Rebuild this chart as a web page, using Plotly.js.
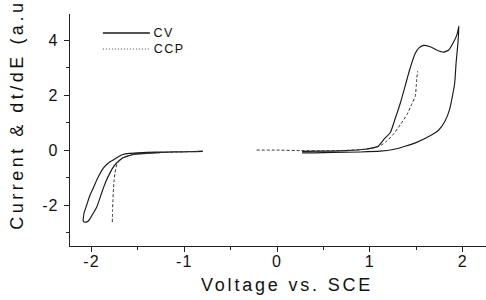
<!DOCTYPE html>
<html>
<head>
<meta charset="utf-8">
<script src="https://cdn.plot.ly/plotly-3.0.1.min.js"></script>
<style>
html,body{margin:0;padding:0;background:#fff;}
#chart{width:486px;height:300px;}
.xtick text,.ytick text{letter-spacing:1px;}
</style>
</head>
<body>
<div id="chart"></div>
<script>
// CV, cathodic loop (left)
const cvLeftX = [-0.80,-0.95,-1.10,-1.25,-1.38,-1.48,-1.55,-1.61,-1.66,-1.70,-1.73,-1.77,-1.80,-1.85,-1.89,-1.94,-2.00,-2.03,-2.06,-2.08,-2.09,-2.085,-2.08,-2.05,-2.02,-1.98,-1.94,-1.87,-1.81,-1.76,-1.71,-1.66,-1.59,-1.51,-1.40,-1.20,-1.00,-0.80];
const cvLeftY = [-0.05,-0.06,-0.07,-0.09,-0.11,-0.14,-0.16,-0.22,-0.28,-0.38,-0.47,-0.65,-0.83,-1.19,-1.56,-2.05,-2.41,-2.57,-2.62,-2.62,-2.56,-2.42,-2.29,-1.99,-1.68,-1.38,-1.07,-0.65,-0.45,-0.35,-0.24,-0.16,-0.12,-0.10,-0.08,-0.07,-0.06,-0.05];
// CV, anodic loop (right)
const cvRightX = [0.27,0.50,0.75,0.95,1.03,1.09,1.165,1.22,1.27,1.33,1.38,1.43,1.49,1.53,1.58,1.65,1.72,1.79,1.85,1.90,1.94,1.96,1.95,1.93,1.915,1.89,1.86,1.81,1.74,1.63,1.505,1.38,1.25,1.11,0.90,0.60,0.40,0.27];
const cvRightY = [-0.05,-0.04,-0.02,0.03,0.08,0.14,0.44,0.63,1.11,1.72,2.32,2.93,3.52,3.72,3.81,3.76,3.64,3.56,3.64,3.91,4.21,4.51,3.91,3.18,2.45,1.96,1.48,1.05,0.72,0.48,0.28,0.14,0.02,-0.04,-0.07,-0.09,-0.10,-0.10];
// CCP, cathodic branch
const ccpLeftX = [-0.85,-1.10,-1.30,-1.45,-1.55,-1.60,-1.66,-1.69,-1.72,-1.735,-1.746,-1.755,-1.762,-1.768,-1.772,-1.775];
const ccpLeftY = [-0.05,-0.07,-0.09,-0.12,-0.16,-0.21,-0.28,-0.36,-0.48,-0.62,-0.83,-1.07,-1.40,-1.80,-2.20,-2.62];
// CCP, anodic branch
const ccpRightX = [-0.22,0.00,0.25,0.50,0.75,0.95,1.05,1.12,1.18,1.25,1.33,1.40,1.45,1.49,1.50,1.505,1.515];
const ccpRightY = [0.00,0.00,-0.02,-0.03,-0.01,0.03,0.08,0.17,0.32,0.56,0.93,1.29,1.66,1.96,2.32,2.57,2.87];

const xTickVals = [-2,-1,0,1,2];
const xTickText = ['-2','-1','0','1','2'];
const yTickVals = [-2,0,2,4];
const yTickText = ['-2','0','2','4'];
const seriesNames = ['CV','CCP'];
const xTitle = 'Voltage vs. SCE';
const yTitle = 'Current &amp; dt/dE (a.u.)';

const cvLine = {color:'#1a1a1a', width:1.15, shape:'spline', smoothing:0.5};
const ccpLine = {color:'#333', width:1, dash:'3px,2px', shape:'spline', smoothing:0.5};

const traces = [
  {x:cvLeftX, y:cvLeftY, mode:'lines', line:cvLine, name:seriesNames[0], showlegend:false},
  {x:cvRightX, y:cvRightY, mode:'lines', line:cvLine, name:seriesNames[0], showlegend:false},
  {x:ccpLeftX, y:ccpLeftY, mode:'lines', line:ccpLine, name:seriesNames[1], showlegend:false},
  {x:ccpRightX, y:ccpRightY, mode:'lines', line:ccpLine, name:seriesNames[1], showlegend:false}
];

const fontFam = 'Liberation Sans, Arial, sans-serif';
const axisCommon = {
  showgrid:false, zeroline:false, showline:true, linecolor:'#222', linewidth:1.3,
  ticks:'outside', ticklen:5, tickwidth:1, tickcolor:'#222',
  tickfont:{family:fontFam, size:16, color:'#111'},
  tickmode:'array'
};

const layout = {
  width:486, height:300,
  margin:{l:70, r:0, t:14, b:54},
  paper_bgcolor:'#fff', plot_bgcolor:'#fff',
  showlegend:false,
  xaxis:Object.assign({}, axisCommon, {
    range:[-2.231, 2.252], tickvals:xTickVals, ticktext:xTickText, ticklabelstandoff:-5,
    minor:{dtick:0.5, tick0:0, ticklen:3, tickcolor:'#222', ticks:'outside'}
  }),
  yaxis:Object.assign({}, axisCommon, {
    range:[-3.49, 4.95], tickvals:yTickVals, ticktext:yTickText, ticklabelstandoff:2,
    minor:{dtick:1, tick0:0, ticklen:3, tickcolor:'#222', ticks:'outside'}
  }),
  shapes:[
    {type:'line', xref:'paper', yref:'paper', x0:0.079, x1:0.192, y0:0.918, y1:0.918, line:{color:'#1a1a1a', width:1.3}},
    {type:'line', xref:'paper', yref:'paper', x0:0.079, x1:0.192, y0:0.849, y1:0.849, line:{color:'#444', width:1, dash:'1px,2px'}}
  ],
  annotations:[
    {text:xTitle, xref:'paper', yref:'paper', x:0.5216, y:-0.168, xanchor:'center', yanchor:'middle', showarrow:false, font:{family:fontFam, size:18, color:'#111'}},
    {text:yTitle, xref:'paper', yref:'paper', x:-0.127, y:0.6034, xanchor:'center', yanchor:'middle', textangle:-90, showarrow:false, font:{family:fontFam, size:18, color:'#111'}},
    {text:seriesNames[0], xref:'paper', yref:'paper', x:(163.5-70)/416, y:0.918, xanchor:'center', yanchor:'middle', showarrow:false, font:{family:fontFam, size:12.5, color:'#111'}},
    {text:seriesNames[1], xref:'paper', yref:'paper', x:(168.5-70)/416, y:0.849, xanchor:'center', yanchor:'middle', showarrow:false, font:{family:fontFam, size:12.5, color:'#111'}}
  ]
};

Plotly.newPlot('chart', traces, layout, {displayModeBar:false, staticPlot:true}).then(function(){
  const spacing = ['2.8px','3.5px','1.5px','1.5px'];
  document.querySelectorAll('.annotation-text').forEach(function(el, i){
    el.style.letterSpacing = spacing[i] || '0px';
  });
});
</script>
</body>
</html>
